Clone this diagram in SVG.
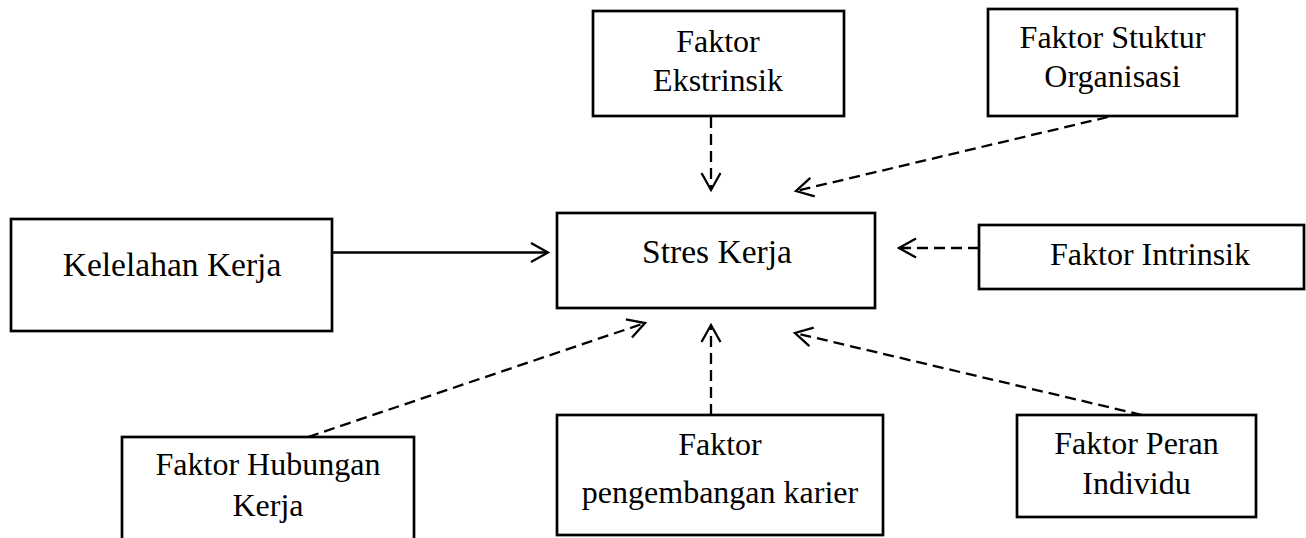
<svg xmlns="http://www.w3.org/2000/svg" width="1306" height="538" viewBox="0 0 1306 538">
<style>
.box{fill:#fff;stroke:#000;stroke-width:2.7}
.t{font-family:"Liberation Serif","Times New Roman",serif;font-size:32px;fill:#000;text-anchor:middle}
.tb{font-size:33.5px}
.c{fill:none;stroke:#000;stroke-width:2.3}
.d{stroke-dasharray:11 6}
</style>
<defs>
<marker id="ah" markerUnits="userSpaceOnUse" markerWidth="24" markerHeight="24" viewBox="-20 -12 24 24" refX="0" refY="0" orient="auto" overflow="visible">
<path d="M-17,-9.5 L0,0 L-17,9.5" fill="none" stroke="#000" stroke-width="2.3"/>
</marker>
</defs>
<g id="connectors">
<line class="c d" x1="711" y1="117" x2="711" y2="190" marker-end="url(#ah)"/>
<line class="c d" x1="1108" y1="117" x2="796" y2="191" marker-end="url(#ah)"/>
<line class="c" x1="333" y1="252.5" x2="548" y2="252.5" marker-end="url(#ah)"/>
<line class="c d" x1="979" y1="248" x2="899" y2="248" marker-end="url(#ah)"/>
<line class="c d" x1="308" y1="437" x2="645" y2="323" marker-end="url(#ah)"/>
<line class="c d" x1="711" y1="415" x2="711" y2="325" marker-end="url(#ah)"/>
<line class="c d" x1="1142" y1="415" x2="795" y2="333" marker-end="url(#ah)"/>
</g>
<g id="n-ekstrinsik">
<rect class="box" x="593" y="11" width="251" height="105"/>
<text class="t" x="718" y="52">Faktor</text>
<text class="t" x="718" y="91">Ekstrinsik</text>
</g>
<g id="n-struktur">
<rect class="box" x="988" y="9" width="249" height="107"/>
<text class="t" x="1112.5" y="48">Faktor Stuktur</text>
<text class="t" x="1112.5" y="87">Organisasi</text>
</g>
<g id="n-kelelahan">
<rect class="box" x="11" y="219" width="321" height="112"/>
<text class="t tb" x="172" y="276">Kelelahan Kerja</text>
</g>
<g id="n-stres">
<rect class="box" x="557" y="213" width="318" height="95"/>
<text class="t tb" x="717" y="263">Stres Kerja</text>
</g>
<g id="n-intrinsik">
<rect class="box" x="979" y="225" width="325" height="64"/>
<text class="t" x="1150" y="265">Faktor Intrinsik</text>
</g>
<g id="n-hubungan">
<rect class="box" x="122" y="437" width="292" height="130"/>
<text class="t" x="268" y="475">Faktor Hubungan</text>
<text class="t" x="268" y="516">Kerja</text>
</g>
<g id="n-karier">
<rect class="box" x="557" y="415" width="326" height="120"/>
<text class="t" x="720" y="455">Faktor</text>
<text class="t" x="720" y="503">pengembangan karier</text>
</g>
<g id="n-peran">
<rect class="box" x="1017" y="415" width="239" height="102"/>
<text class="t" x="1136.5" y="454">Faktor Peran</text>
<text class="t" x="1136.5" y="494">Individu</text>
</g>
</svg>
